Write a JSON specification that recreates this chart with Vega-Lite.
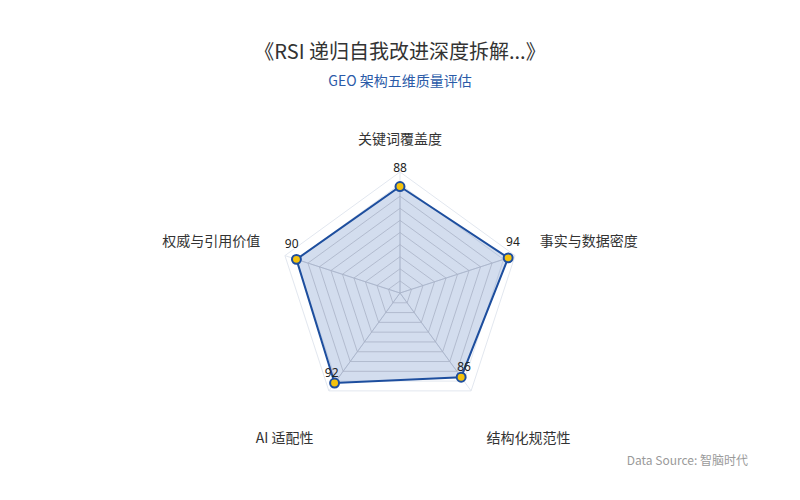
{
  "$schema": "https://vega.github.io/schema/vega-lite/v6.json",
  "width": 800,
  "height": 500,
  "autosize": {"type": "none"},
  "padding": 0,
  "background": "white",
  "config": {"view": {"stroke": null}, "font": "Noto Sans CJK SC"},
  "title": {
    "text": "《RSI 递归自我改进深度拆解...》",
    "subtitle": "GEO 架构五维质量评估",
    "anchor": "middle",
    "frame": "group",
    "offset": -89,
    "fontSize": 20,
    "fontWeight": "normal",
    "color": "#333333",
    "font": "Noto Sans CJK SC",
    "subtitleFont": "Noto Sans CJK SC",
    "subtitleFontSize": 14,
    "subtitleColor": "#2b5ba8",
    "subtitlePadding": 12
  },
  "datasets": {
    "axes": [
      {"name": "关键词覆盖度", "value": 88, "i": 0},
      {"name": "事实与数据密度", "value": 94, "i": 1},
      {"name": "结构化规范性", "value": 86, "i": 2},
      {"name": "AI 适配性", "value": 92, "i": 3},
      {"name": "权威与引用价值", "value": 90, "i": 4}
    ],
    "grid": [
      {"i": 0, "level": 10}, {"i": 1, "level": 10}, {"i": 2, "level": 10}, {"i": 3, "level": 10}, {"i": 4, "level": 10},
      {"i": 0, "level": 20}, {"i": 1, "level": 20}, {"i": 2, "level": 20}, {"i": 3, "level": 20}, {"i": 4, "level": 20},
      {"i": 0, "level": 30}, {"i": 1, "level": 30}, {"i": 2, "level": 30}, {"i": 3, "level": 30}, {"i": 4, "level": 30},
      {"i": 0, "level": 40}, {"i": 1, "level": 40}, {"i": 2, "level": 40}, {"i": 3, "level": 40}, {"i": 4, "level": 40},
      {"i": 0, "level": 50}, {"i": 1, "level": 50}, {"i": 2, "level": 50}, {"i": 3, "level": 50}, {"i": 4, "level": 50},
      {"i": 0, "level": 60}, {"i": 1, "level": 60}, {"i": 2, "level": 60}, {"i": 3, "level": 60}, {"i": 4, "level": 60},
      {"i": 0, "level": 70}, {"i": 1, "level": 70}, {"i": 2, "level": 70}, {"i": 3, "level": 70}, {"i": 4, "level": 70},
      {"i": 0, "level": 80}, {"i": 1, "level": 80}, {"i": 2, "level": 80}, {"i": 3, "level": 80}, {"i": 4, "level": 80},
      {"i": 0, "level": 90}, {"i": 1, "level": 90}, {"i": 2, "level": 90}, {"i": 3, "level": 90}, {"i": 4, "level": 90},
      {"i": 0, "level": 100}, {"i": 1, "level": 100}, {"i": 2, "level": 100}, {"i": 3, "level": 100}, {"i": 4, "level": 100}
    ],
    "note": [{"label": "Data Source: 智脑时代"}]
  },
  "layer": [
    {
      "data": {"name": "grid"},
      "transform": [
        {"filter": "datum.level >= 90"},
        {"calculate": "(-90 + 72 * datum.i) * PI / 180", "as": "theta"},
        {"calculate": "datum.level * 1.21 * cos(datum.theta)", "as": "px"},
        {"calculate": "-datum.level * 1.21 * sin(datum.theta)", "as": "py"}
      ],
      "mark": {"type": "line", "interpolate": "linear-closed", "stroke": "#e2e7ef", "strokeWidth": 1},
      "encoding": {
        "x": {"field": "px", "type": "quantitative", "scale": {"domain": [-400, 400], "nice": false, "zero": false}, "axis": null},
        "y": {"field": "py", "type": "quantitative", "scale": {"domain": [-207, 293], "nice": false, "zero": false}, "axis": null},
        "detail": {"field": "level", "type": "nominal"},
        "order": {"field": "i", "type": "quantitative"}
      }
    },
    {
      "data": {"name": "axes"},
      "transform": [
        {"calculate": "(-90 + 72 * datum.i) * PI / 180", "as": "theta"},
        {"calculate": "121 * cos(datum.theta)", "as": "px"},
        {"calculate": "-121 * sin(datum.theta)", "as": "py"}
      ],
      "mark": {"type": "rule", "stroke": "#e2e7ef", "strokeWidth": 1},
      "encoding": {
        "x": {"field": "px", "type": "quantitative"},
        "y": {"field": "py", "type": "quantitative"},
        "x2": {"datum": 0},
        "y2": {"datum": 0}
      }
    },
    {
      "data": {"name": "axes"},
      "transform": [
        {"calculate": "(-90 + 72 * datum.i) * PI / 180", "as": "theta"},
        {"calculate": "datum.value * 1.21 * cos(datum.theta)", "as": "px"},
        {"calculate": "-datum.value * 1.21 * sin(datum.theta)", "as": "py"}
      ],
      "mark": {"type": "line", "interpolate": "linear-closed", "fill": "#2454a8", "fillOpacity": 0.2, "strokeOpacity": 0},
      "encoding": {
        "x": {"field": "px", "type": "quantitative"},
        "y": {"field": "py", "type": "quantitative"},
        "order": {"field": "i", "type": "quantitative"}
      }
    },
    {
      "data": {"name": "grid"},
      "transform": [
        {"filter": "datum.level <= 80"},
        {"calculate": "(-90 + 72 * datum.i) * PI / 180", "as": "theta"},
        {"calculate": "datum.level * 1.21 * cos(datum.theta)", "as": "px"},
        {"calculate": "-datum.level * 1.21 * sin(datum.theta)", "as": "py"}
      ],
      "mark": {"type": "line", "interpolate": "linear-closed", "stroke": "#a9b3c7", "strokeWidth": 0.8},
      "encoding": {
        "x": {"field": "px", "type": "quantitative"},
        "y": {"field": "py", "type": "quantitative"},
        "detail": {"field": "level", "type": "nominal"},
        "order": {"field": "i", "type": "quantitative"}
      }
    },
    {
      "data": {"name": "axes"},
      "transform": [
        {"calculate": "(-90 + 72 * datum.i) * PI / 180", "as": "theta"},
        {"calculate": "datum.value * 1.21 * cos(datum.theta)", "as": "px"},
        {"calculate": "-datum.value * 1.21 * sin(datum.theta)", "as": "py"}
      ],
      "mark": {"type": "rule", "stroke": "#a9b3c7", "strokeWidth": 0.8},
      "encoding": {
        "x": {"field": "px", "type": "quantitative"},
        "y": {"field": "py", "type": "quantitative"},
        "x2": {"datum": 0},
        "y2": {"datum": 0}
      }
    },
    {
      "data": {"name": "axes"},
      "transform": [
        {"calculate": "(-90 + 72 * datum.i) * PI / 180", "as": "theta"},
        {"calculate": "datum.value * 1.21 * cos(datum.theta)", "as": "px"},
        {"calculate": "-datum.value * 1.21 * sin(datum.theta)", "as": "py"}
      ],
      "mark": {"type": "line", "interpolate": "linear-closed", "stroke": "#1d4e9e", "strokeWidth": 2},
      "encoding": {
        "x": {"field": "px", "type": "quantitative"},
        "y": {"field": "py", "type": "quantitative"},
        "order": {"field": "i", "type": "quantitative"}
      }
    },
    {
      "data": {"name": "axes"},
      "transform": [
        {"calculate": "(-90 + 72 * datum.i) * PI / 180", "as": "theta"},
        {"calculate": "datum.value * 1.21 * cos(datum.theta)", "as": "px"},
        {"calculate": "-datum.value * 1.21 * sin(datum.theta)", "as": "py"}
      ],
      "mark": {"type": "point", "filled": true, "fill": "#f4c20d", "stroke": "#1d4e9e", "strokeWidth": 2, "size": 80, "opacity": 1},
      "encoding": {
        "x": {"field": "px", "type": "quantitative"},
        "y": {"field": "py", "type": "quantitative"}
      }
    },
    {
      "data": {"name": "axes"},
      "transform": [
        {"calculate": "(-90 + 72 * datum.i) * PI / 180", "as": "theta"},
        {"calculate": "(datum.value * 1.21 + 5) * cos(datum.theta)", "as": "px"},
        {"calculate": "-(datum.value * 1.21 + 5) * sin(datum.theta)", "as": "py"}
      ],
      "mark": {"type": "text", "fontSize": 12, "color": "#222222", "dy": -14, "align": "center", "baseline": "middle", "font": "Noto Sans"},
      "encoding": {
        "x": {"field": "px", "type": "quantitative"},
        "y": {"field": "py", "type": "quantitative"},
        "text": {"field": "value", "type": "quantitative"}
      }
    },
    {
      "data": {"name": "axes"},
      "transform": [
        {"filter": "datum.i == 0"},
        {"calculate": "(-90 + 72 * datum.i) * PI / 180", "as": "theta"},
        {"calculate": "147 * cos(datum.theta)", "as": "px"},
        {"calculate": "-147 * sin(datum.theta) + (sin(datum.theta) > 0.5 ? -27 : 6)", "as": "py"}
      ],
      "mark": {"type": "text", "fontSize": 14, "color": "#333333", "align": "center", "baseline": "middle"},
      "encoding": {
        "x": {"field": "px", "type": "quantitative"},
        "y": {"field": "py", "type": "quantitative"},
        "text": {"field": "name", "type": "nominal"}
      }
    },
    {
      "data": {"name": "axes"},
      "transform": [
        {"filter": "datum.i == 1 || datum.i == 2"},
        {"calculate": "(-90 + 72 * datum.i) * PI / 180", "as": "theta"},
        {"calculate": "147 * cos(datum.theta)", "as": "px"},
        {"calculate": "-147 * sin(datum.theta) + (sin(datum.theta) > 0.5 ? -27 : 6)", "as": "py"}
      ],
      "mark": {"type": "text", "fontSize": 14, "color": "#333333", "align": "left", "baseline": "middle"},
      "encoding": {
        "x": {"field": "px", "type": "quantitative"},
        "y": {"field": "py", "type": "quantitative"},
        "text": {"field": "name", "type": "nominal"}
      }
    },
    {
      "data": {"name": "axes"},
      "transform": [
        {"filter": "datum.i == 3 || datum.i == 4"},
        {"calculate": "(-90 + 72 * datum.i) * PI / 180", "as": "theta"},
        {"calculate": "147 * cos(datum.theta)", "as": "px"},
        {"calculate": "-147 * sin(datum.theta) + (sin(datum.theta) > 0.5 ? -27 : 6)", "as": "py"}
      ],
      "mark": {"type": "text", "fontSize": 14, "color": "#333333", "align": "right", "baseline": "middle"},
      "encoding": {
        "x": {"field": "px", "type": "quantitative"},
        "y": {"field": "py", "type": "quantitative"},
        "text": {"field": "name", "type": "nominal"}
      }
    },
    {
      "data": {"name": "note"},
      "mark": {"type": "text", "fontSize": 12, "color": "#9a9a9a", "align": "right", "baseline": "middle"},
      "encoding": {
        "x": {"datum": 348},
        "y": {"datum": -168},
        "text": {"field": "label", "type": "nominal"}
      }
    }
  ]
}
